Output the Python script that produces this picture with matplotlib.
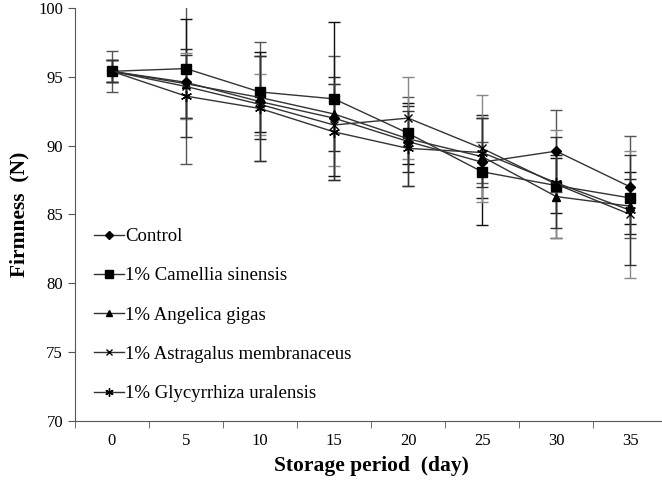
import numpy as np
import matplotlib.pyplot as plt
from matplotlib.lines import Line2D

plt.rcParams['font.family'] = ['Liberation Serif', 'DejaVu Serif']

days = [0, 5, 10, 15, 20, 25, 30, 35]

control = [95.4, 94.6, 93.2, 92.0, 90.3, 88.8, 89.6, 87.0]
camellia = [95.4, 95.6, 93.9, 93.4, 90.9, 88.1, 87.1, 86.2]
angelica = [95.4, 94.5, 93.5, 92.3, 90.5, 89.2, 86.3, 85.6]
astragalus = [95.4, 94.3, 93.0, 91.5, 92.0, 89.8, 87.2, 85.0]
glycyrrhiza = [95.4, 93.6, 92.7, 91.0, 89.8, 89.5, 87.3, 85.3]

control_err = [1.5, 5.9, 4.3, 4.5, 3.2, 1.5, 3.0, 3.7]
camellia_err = [0.8, 3.6, 2.9, 5.6, 2.2, 3.9, 2.0, 1.9]
angelica_err = [0.8, 2.5, 3.0, 2.7, 2.4, 3.0, 3.0, 2.0]
astragalus_err = [0.8, 2.4, 2.2, 3.0, 3.0, 3.9, 3.9, 4.6]
glycyrrhiza_err = [0.8, 3.0, 3.8, 3.5, 2.7, 2.5, 3.3, 4.0]

labels = ['Control', '1% Camellia sinensis', '1% Angelica gigas',
          '1% Astragalus membranaceus', '1% Glycyrrhiza uralensis']

fig = plt.figure(figsize=(6.62, 4.86), dpi=100)
ax = fig.add_axes([0.113, 0.134, 0.895, 0.8495])

x = np.arange(len(days))
series = [control, camellia, angelica, astragalus, glycyrrhiza]
errs = [control_err, camellia_err, angelica_err, astragalus_err, glycyrrhiza_err]
markers = ['D', 's', '^', 'x', (6, 2, 0)]
msizes = [5, 7, 6, 6, 8]
ecols = ['#555555', '#111111', '#222222', '#888888', '#333333']

handles = []
for y, e, m, ms, ec, lab in zip(series, errs, markers, msizes, ecols, labels):
    ax.errorbar(x, y, yerr=e, color='#333333', lw=1.0, marker=m, ms=ms,
                mfc='black', mec='black', mew=1.0, ecolor=ec, elinewidth=1.0,
                capsize=4, capthick=1.0)
    handles.append(Line2D([], [], color='#333333', lw=1.0, marker=m,
                          ms=ms * 0.75, mfc='black', mec='black', label=lab))

ax.set_xlim(-0.5, 7.5)
ax.set_ylim(70, 100)
ax.set_yticks(np.arange(70, 101, 5))
ax.set_xticks(x)
ax.set_xticklabels([str(d) for d in days])
ax.set_xticks(np.arange(-0.5, 8.0, 1.0), minor=True)
ax.tick_params(axis='x', which='major', length=0, pad=9, labelsize=12)
ax.tick_params(axis='x', which='minor', length=5, direction='out', color='#555555')
ax.tick_params(axis='y', length=5, direction='out', color='#555555', labelsize=12)

for s in ['top', 'right']:
    ax.spines[s].set_visible(False)
for s in ['left', 'bottom']:
    ax.spines[s].set_color('#555555')

ax.set_xlabel('Storage period  (day)', fontsize=15.5, fontweight='bold', labelpad=5)
ax.set_ylabel('Firmness  (N)', fontsize=15.5, fontweight='bold', labelpad=6)

ax.legend(handles=handles, loc='lower left', bbox_to_anchor=(0.0, 0.0),
          frameon=False, fontsize=13.5, handlelength=1.6, handletextpad=0.1,
          labelspacing=1.18, borderaxespad=0.6)

fig.savefig('out.png', dpi=100)
